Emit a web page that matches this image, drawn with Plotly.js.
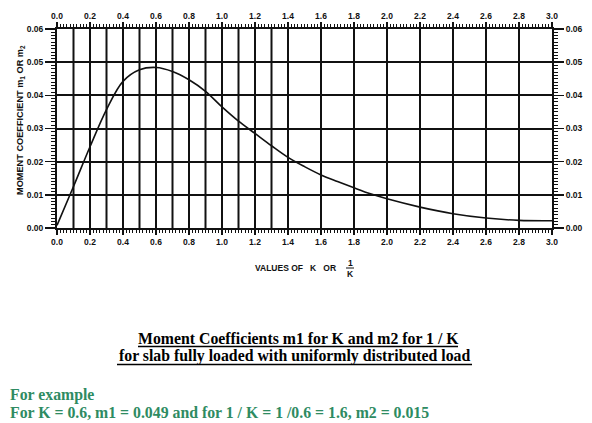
<!DOCTYPE html>
<html>
<head>
<meta charset="utf-8">
<script src="https://cdn.plot.ly/plotly-3.0.1.min.js"></script>
<style>html,body{margin:0;padding:0;background:#fff;}#chart{width:592px;height:423px;}</style>
</head>
<body>
<div id="chart"></div>
<script>
// ---- data ----
var kValues = [0.0, 0.1, 0.2, 0.3, 0.4, 0.5, 0.6, 0.7, 0.8, 0.9, 1.0, 1.1, 1.2, 1.3, 1.4, 1.5, 1.6, 1.7, 1.8, 1.9, 2.0, 2.2, 2.4, 2.6, 2.8, 3.0];
var mValues = [0.0008, 0.0125, 0.0245, 0.0357, 0.0442, 0.0477, 0.0484, 0.0472, 0.0447, 0.0412, 0.0365, 0.0322, 0.0285, 0.0248, 0.0213, 0.0185, 0.0160, 0.0140, 0.0121, 0.0103, 0.0088, 0.0063, 0.0043, 0.0030, 0.0023, 0.0022];
var xTickVals = [0.0,0.2,0.4,0.6,0.8,1.0,1.2,1.4,1.6,1.8,2.0,2.2,2.4,2.6,2.8,3.0];
var xTickText = ['0.0','0.2','0.4','0.6','0.8','1.0','1.2','1.4','1.6','1.8','2.0','2.2','2.4','2.6','2.8','3.0'];
var xGridVals = [0.1,0.2,0.3,0.4,0.5,0.6,0.7,0.8,0.9,1.0,1.1,1.2,1.3,1.4,1.6,1.8,2.0,2.2,2.4,2.6,2.8];
var captionLine1 = 'Moment Coefficients m1 for K and m2 for 1 / K';
var captionLine2 = 'for slab fully loaded with uniformly distributed load';
var exampleLine1 = 'For example';
var exampleLine2 = 'For K = 0.6, m1 = 0.049 and for 1 / K = 1 /0.6 = 1.6, m2 = 0.015';

// ---- layout helpers (pixel -> paper) ----
var L = 57, R = 40, T = 29, B = 195, W = 592, H = 423;
var pw = W - L - R, ph = H - T - B;
function px(p){ return (p - L) / pw; }
function py(p){ return (H - B - p) / ph; }

var tickFont = {family: 'Liberation Sans, Arial, sans-serif', size: 8.5, color: '#111', weight: 'bold'};

var xCommon = {
  range: [0, 3], tickmode: 'array', tickvals: xTickVals, ticktext: xTickText,
  ticks: 'outside', ticklen: 5, tickwidth: 1.5, tickcolor: '#111',
  showline: true, linewidth: 2, linecolor: '#111', showgrid: false, zeroline: false,
  tickfont: tickFont,
  minor: {tickmode: 'linear', tick0: 0, dtick: 0.02, ticks: 'outside', ticklen: 3, tickwidth: 1, tickcolor: '#111', showgrid: false}
};
var yCommon = {
  range: [0, 0.06], tickmode: 'linear', tick0: 0, dtick: 0.01, tickformat: '.2f',
  ticks: 'outside', ticklen: 10, tickwidth: 1.5, tickcolor: '#111',
  showline: true, linewidth: 2, linecolor: '#111', zeroline: false,
  tickfont: tickFont,
  minor: {tickmode: 'linear', tick0: 0, dtick: 0.001, ticks: 'outside', ticklen: 4, tickwidth: 1, tickcolor: '#111', showgrid: false}
};

var shapes = [];
xGridVals.forEach(function(v){
  shapes.push({type: 'line', xref: 'x', yref: 'paper', x0: v, x1: v, y0: 0, y1: 1, layer: 'below', line: {color: '#111', width: 2}});
});
// fraction bar and caption underlines
shapes.push({type: 'line', xref: 'paper', yref: 'paper', x0: px(346), x1: px(354), y0: py(268), y1: py(268), line: {color: '#111', width: 1}});
shapes.push({type: 'line', xref: 'paper', yref: 'paper', x0: px(138), x1: px(458), y0: py(346.5), y1: py(346.5), line: {color: '#000', width: 1.3}});
shapes.push({type: 'line', xref: 'paper', yref: 'paper', x0: px(117), x1: px(472), y0: py(364.5), y1: py(364.5), line: {color: '#000', width: 1.3}});

var labelFont = {family: 'Liberation Sans, Arial, sans-serif', size: 8.5, color: '#111', weight: 'bold'};
var capFont = {family: 'Liberation Serif, Times New Roman, serif', size: 15.8, color: '#000', weight: 'bold'};
var exFont = {family: 'Liberation Serif, Times New Roman, serif', size: 15.8, color: '#2e8b62', weight: 'bold'};

var annotations = [
  {xref: 'paper', yref: 'paper', x: px(20), y: py(120), text: 'MOMENT COEFFICIENT m<sub>1</sub> OR m<sub>2</sub>', textangle: -90, showarrow: false, font: {family: 'Liberation Sans, Arial, sans-serif', size: 9.2, color: '#111', weight: 'bold'}, xanchor: 'center', yanchor: 'middle'},
  {xref: 'paper', yref: 'paper', x: px(338), y: py(268), text: 'VALUES OF&nbsp;&nbsp;&nbsp;K&nbsp;&nbsp;&nbsp;OR', showarrow: false, font: labelFont, xanchor: 'right', yanchor: 'middle'},
  {xref: 'paper', yref: 'paper', x: px(350), y: py(263), text: '1', showarrow: false, font: labelFont, xanchor: 'center', yanchor: 'middle'},
  {xref: 'paper', yref: 'paper', x: px(350), y: py(274), text: 'K', showarrow: false, font: labelFont, xanchor: 'center', yanchor: 'middle'},
  {xref: 'paper', yref: 'paper', x: px(298), y: py(338), text: captionLine1, showarrow: false, font: capFont, xanchor: 'center', yanchor: 'middle'},
  {xref: 'paper', yref: 'paper', x: px(294.5), y: py(356), text: captionLine2, showarrow: false, font: capFont, xanchor: 'center', yanchor: 'middle'},
  {xref: 'paper', yref: 'paper', x: px(8), y: py(395), text: exampleLine1, showarrow: false, font: exFont, xanchor: 'left', yanchor: 'middle'},
  {xref: 'paper', yref: 'paper', x: px(8), y: py(412), text: exampleLine2, showarrow: false, font: exFont, xanchor: 'left', yanchor: 'middle'}
];

var traces = [
  {x: kValues, y: mValues, type: 'scatter', mode: 'lines', line: {color: '#111', width: 1.6, shape: 'spline', smoothing: 1}, xaxis: 'x', yaxis: 'y', hoverinfo: 'skip'},
  {x: kValues, y: mValues, type: 'scatter', mode: 'lines', line: {color: 'rgba(0,0,0,0)', width: 0}, xaxis: 'x2', yaxis: 'y2', hoverinfo: 'skip'}
];

var layout = {
  width: W, height: H,
  margin: {l: L, r: R, t: T, b: B, pad: 0},
  paper_bgcolor: '#fff', plot_bgcolor: '#fff',
  showlegend: false,
  xaxis: Object.assign({}, xCommon, {side: 'bottom', anchor: 'y'}),
  xaxis2: Object.assign({}, xCommon, {side: 'top', overlaying: 'x', anchor: 'y2', matches: 'x'}),
  yaxis: Object.assign({}, yCommon, {side: 'left', anchor: 'x', showgrid: true, gridcolor: '#111', gridwidth: 2}),
  yaxis2: Object.assign({}, yCommon, {side: 'right', overlaying: 'y', anchor: 'x2', showgrid: false, matches: 'y'}),
  shapes: shapes,
  annotations: annotations
};

Plotly.newPlot('chart', traces, layout, {staticPlot: true, displayModeBar: false});
</script>
</body>
</html>
